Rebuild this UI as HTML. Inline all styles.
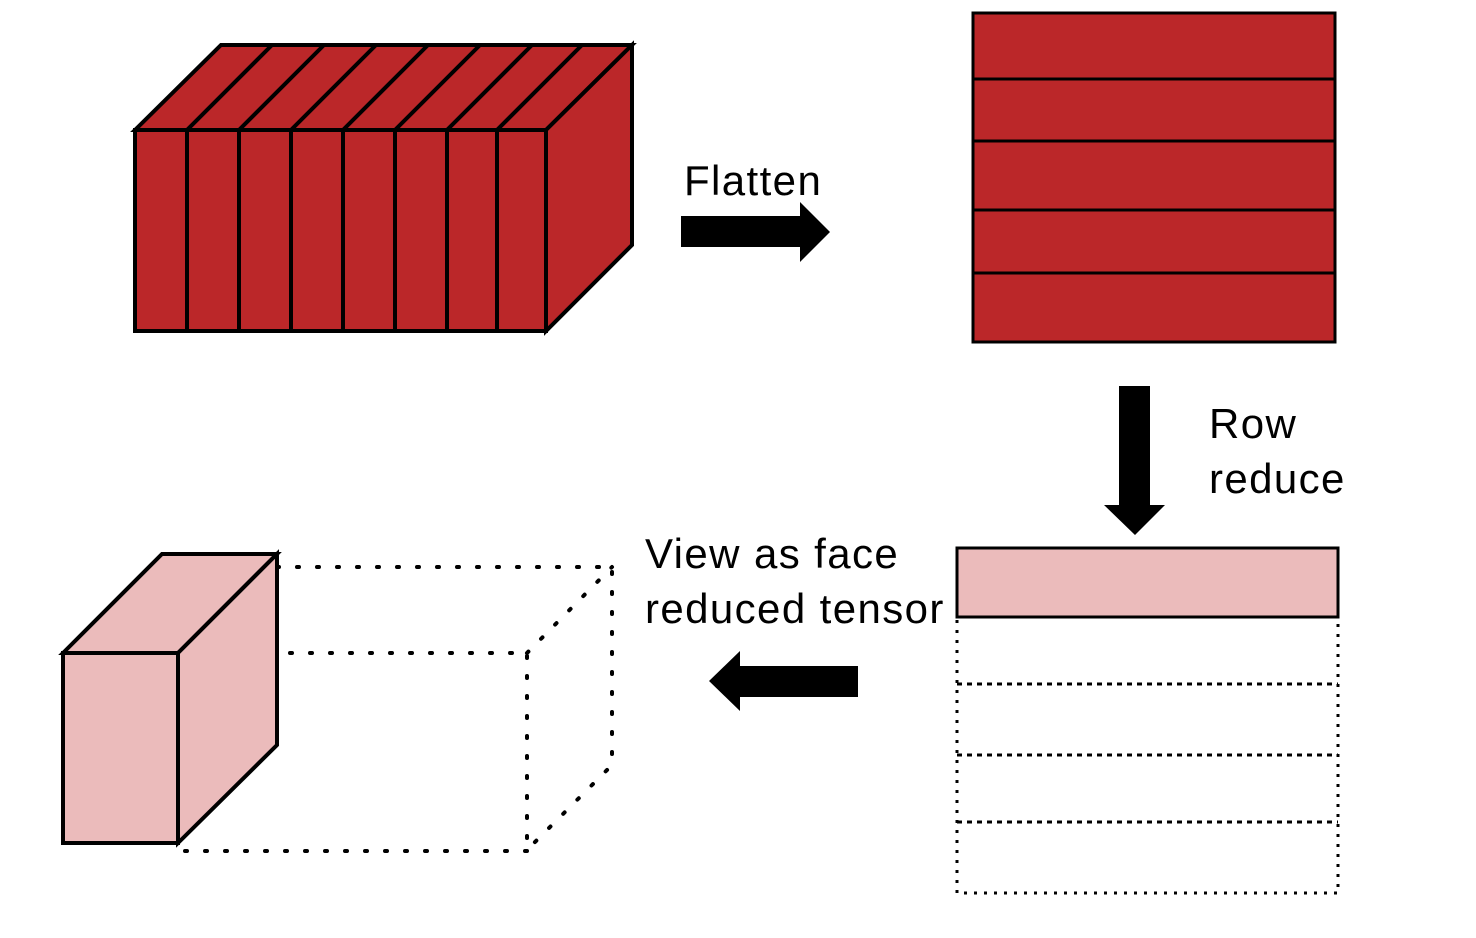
<!DOCTYPE html>
<html><head><style>body{margin:0;background:#fff}svg{display:block}text{font-family:"Liberation Sans",sans-serif;font-size:42px;letter-spacing:1.4px;fill:#000}</style></head>
<body>
<svg width="1476" height="938" viewBox="0 0 1476 938">
<g stroke="#000" stroke-width="4" fill="#bb2729" stroke-linejoin="miter">
<polygon points="135,130 221,45 632,45 546,130"/>
<polygon points="546,130 632,45 632,245 546,331"/>
<rect x="135" y="130" width="411" height="201"/>
<path d="M187,130V331M239,130V331M291,130V331M343,130V331M395,130V331M447,130V331M497,130V331" fill="none"/>
<path d="M187,130L272,45M239,130L324,45M291,130L376,45M343,130L428,45M395,130L480,45M447,130L532,45M497,130L582,45" fill="none"/>
</g>
<g stroke="#000" stroke-width="3" fill="#bb2729">
<rect x="973" y="13" width="362" height="329"/>
<path d="M973,79H1335M973,141H1335M973,210H1335M973,273H1335" fill="none"/>
</g>
<polygon points="681,216 800,216 800,202 830,232 800,262 800,247 681,247" fill="#000"/>
<polygon points="1119,386 1150,386 1150,505 1165,505 1135,535 1104,505 1119,505" fill="#000"/>
<polygon points="858,666 740,666 740,651 709,681 740,711 740,697 858,697" fill="#000"/>
<rect x="957" y="548" width="381" height="69" fill="#ebbbbb" stroke="#000" stroke-width="3"/>
<g stroke="#000" stroke-width="3" fill="none" stroke-dasharray="3,7">
<path d="M957,620V893H1338V620"/>
<path d="M957,684H1338M957,755H1338M957,822H1338" stroke-dasharray="5,5"/>
</g>
<g stroke="#000" stroke-width="4" fill="none" stroke-dasharray="2,18" stroke-linecap="round">
<path d="M277,567H612V765L527,850"/>
<path d="M190,653H527V845"/>
<path d="M185,851H527"/>
<path d="M527,653L612,567"/>
</g>
<g stroke="#000" stroke-width="4" fill="#ebbbbb">
<polygon points="63,653 162,554 277,554 178,653"/>
<polygon points="178,653 277,554 277,745 178,843"/>
<rect x="63" y="653" width="115" height="190"/>
</g>
<text x="684" y="195">Flatten</text>
<text x="1209" y="438">Row</text>
<text x="1209" y="493">reduce</text>
<text x="645" y="568">View as face</text>
<text x="645" y="623">reduced tensor</text>
</svg>
</body></html>
